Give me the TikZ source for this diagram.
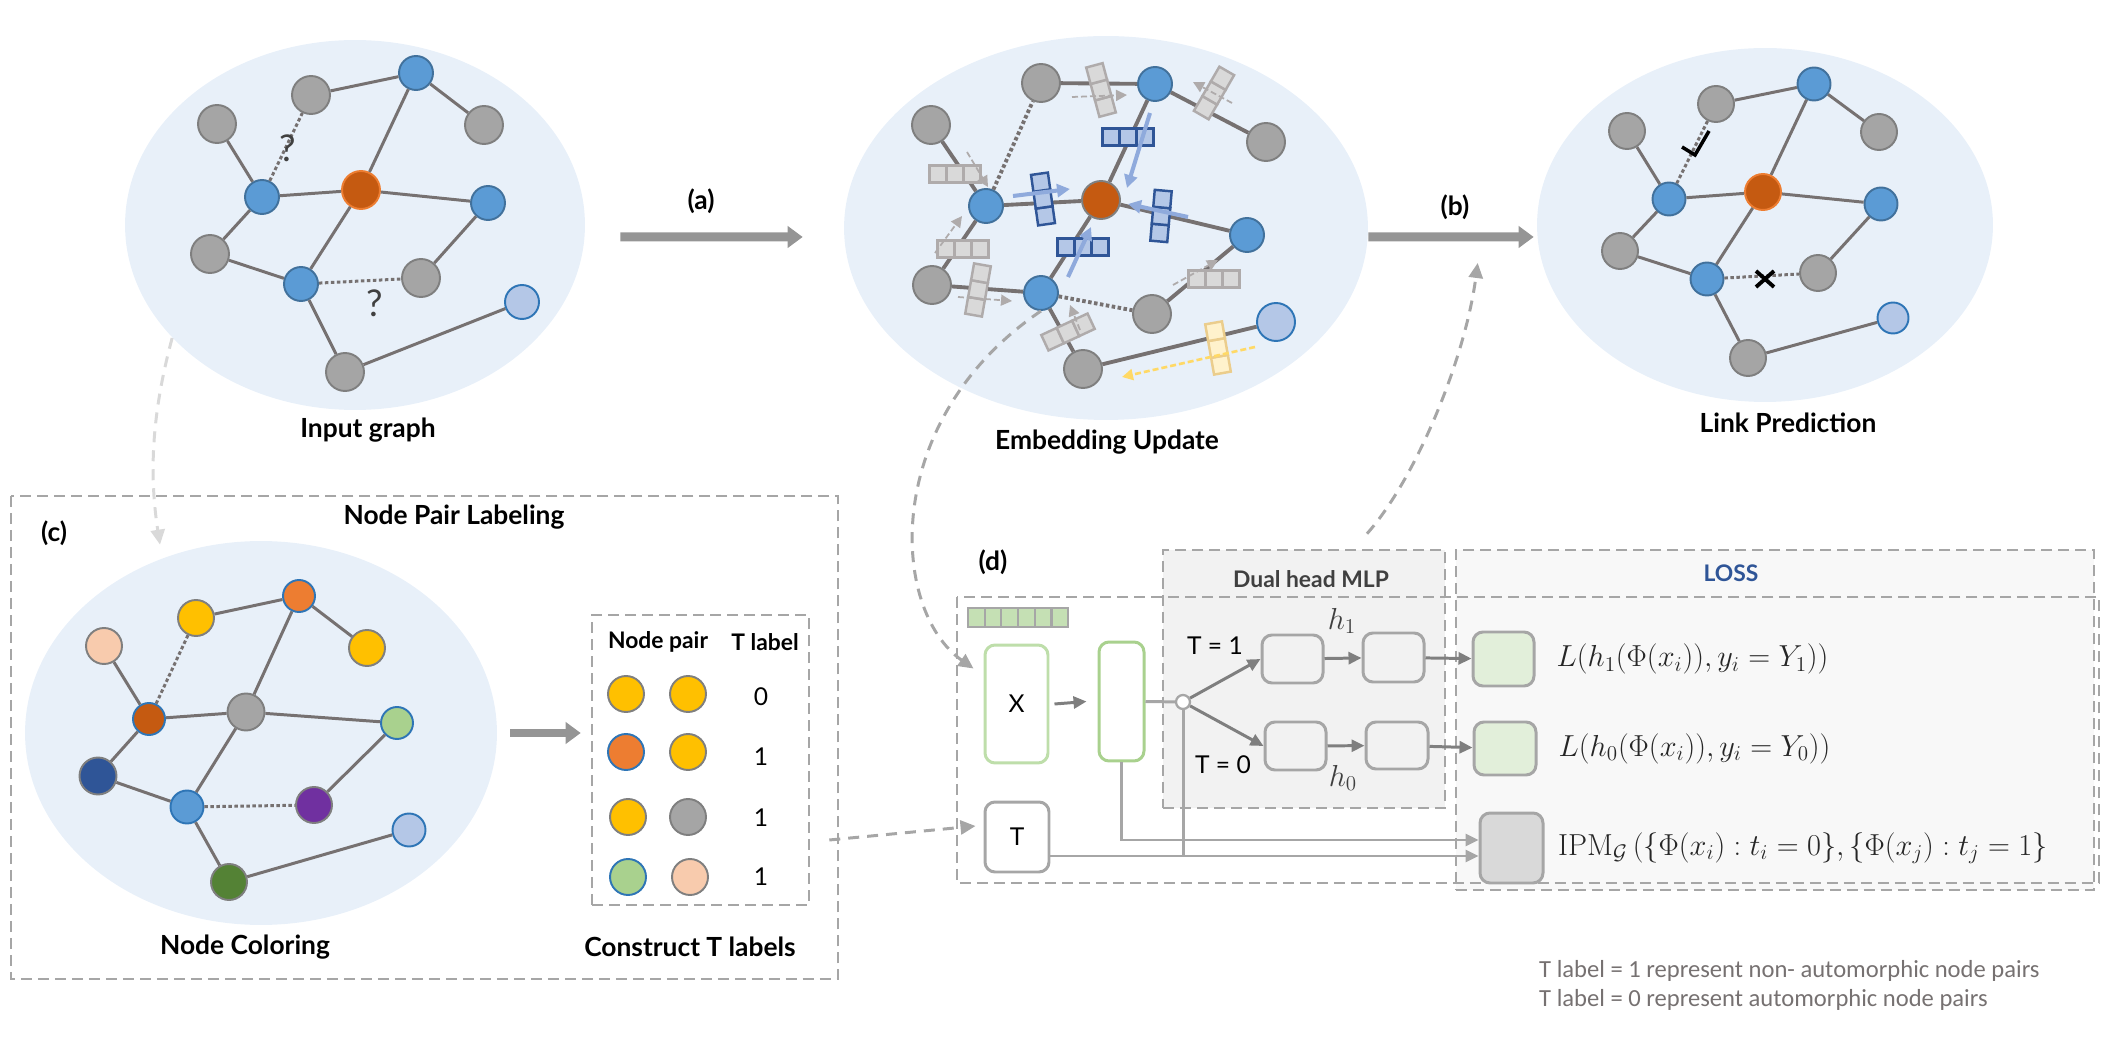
\documentclass[tikz,border=0pt]{standalone}
\usepackage[no-math]{fontspec}
\setmainfont{Lato}
\newfontfamily\notefont{Carlito}
\usepackage{amsmath}
\usetikzlibrary{arrows.meta, positioning, shapes.geometric}

\definecolor{ellfill}{RGB}{232,240,249}
\definecolor{edgegray}{RGB}{118,113,113}
\definecolor{nodegray}{RGB}{165,165,165}
\definecolor{nodegrayd}{RGB}{127,127,127}
\definecolor{nodeblue}{RGB}{91,155,213}
\definecolor{nodebluedk}{RGB}{65,113,156}
\definecolor{nodebrown}{RGB}{197,90,17}
\definecolor{nodeorange}{RGB}{237,125,49}
\definecolor{nodelight}{RGB}{180,199,231}
\definecolor{nodelightd}{RGB}{46,117,182}
\definecolor{nodeyellow}{RGB}{255,192,0}
\definecolor{nodepeach}{RGB}{248,203,173}
\definecolor{nodegreen}{RGB}{169,209,142}
\definecolor{nodenavy}{RGB}{47,85,151}
\definecolor{nodepurple}{RGB}{112,48,160}
\definecolor{nodedkgreen}{RGB}{84,130,53}
\definecolor{boxgray}{RGB}{166,166,166}
\definecolor{lightline}{RGB}{217,217,217}
\definecolor{vecgray}{RGB}{217,217,217}
\definecolor{vecgrayd}{RGB}{175,171,171}
\definecolor{vecblue}{RGB}{180,199,231}
\definecolor{vecblued}{RGB}{47,85,151}
\definecolor{vecyellow}{RGB}{255,242,204}
\definecolor{vecyellowd}{RGB}{235,205,140}
\definecolor{flowblue}{RGB}{143,170,220}
\definecolor{flowyellow}{RGB}{255,217,102}
\definecolor{mlpfill}{RGB}{242,242,242}
\definecolor{lossfill}{RGB}{248,248,248}
\definecolor{lossgreen}{RGB}{226,239,218}
\definecolor{ipmfill}{RGB}{217,217,217}
\definecolor{featgreen}{RGB}{197,224,180}
\definecolor{xgreen}{RGB}{190,222,170}
\definecolor{lossblue}{RGB}{47,85,151}
\definecolor{notegray}{RGB}{118,113,113}
\definecolor{arrowdk}{RGB}{127,127,127}
\definecolor{darktext}{RGB}{64,64,64}
\definecolor{formtext}{RGB}{38,38,38}

% three-cell embedding vector: position, angle, fill, border
\newcommand{\embvec}[4]{%
  \begin{scope}[shift={#1}, rotate=#2]
    \foreach \k in {0,1,2}
      \draw[fill=#3, draw=#4, line width=1.4pt] ({\k*17-25.5},-8.5) rectangle ++(17,17);
  \end{scope}}

\begin{document}
\begin{tikzpicture}[x=0.02cm, y=-0.02cm,
    every node/.style={font=\fontsize{15}{18}\selectfont\bfseries},
    gnode/.style={circle, draw=nodegrayd, fill=nodegray, line width=1.1pt,
                  minimum size=0.76cm, inner sep=0pt},
    bnode/.style={gnode, draw=nodebluedk, fill=nodeblue, minimum size=0.68cm},
    onode/.style={gnode, draw=nodeorange, fill=nodebrown},
    lnode/.style={gnode, draw=nodelightd, fill=nodelight, minimum size=0.68cm},
    gedge/.style={draw=edgegray, line width=1.7pt},
    qedge/.style={gedge, dash pattern=on 0.07cm off 0.05cm},
    panel/.style={ellipse, fill=ellfill, inner sep=0pt},
    bigarrow/.style={draw=boxgray!90!black, line width=0.18cm,
                     -{Triangle[length=0.3cm, width=0.42cm]}},
    dashbox/.style={draw=boxgray, line width=1.5pt, dash pattern=on 0.22cm off 0.12cm},
    flow/.style={draw=boxgray, line width=1.7pt, dash pattern=on 0.22cm off 0.16cm,
                 -{Triangle[length=0.3cm, width=0.28cm]}},
    blk/.style={draw=boxgray, rounded corners=0.2cm, line width=1.7pt, fill=white},
    arrow/.style={draw=arrowdk, line width=1.7pt, -{Triangle[length=0.26cm, width=0.24cm]}},
    feed/.style={draw=boxgray, line width=1.7pt},
    msgblue/.style={draw=flowblue, line width=2.3pt, -{Triangle[length=0.26cm, width=0.26cm]}},
    msggray/.style={draw=vecgrayd, line width=1pt, dash pattern=on 0.12cm off 0.06cm,
                    -{Triangle[length=0.22cm, width=0.22cm]}},
    small/.style={font=\fontsize{14}{16}\selectfont},
    smallb/.style={font=\fontsize{13}{15}\selectfont\bfseries},
    qmark/.style={font=\fontsize{21}{24}\selectfont, text=darktext},
  ]
  \useasboundingbox (0,0) rectangle (2103,1053);

  % Panels
  \node[panel, minimum width=9.2cm, minimum height=7.4cm]   (inpanel) at (355,225) {};
  \node[panel, minimum width=10.48cm, minimum height=7.68cm] (empanel) at (1106,228) {};
  \node[panel, minimum width=9.12cm, minimum height=7.08cm]  (lpanel)  at (1765,225) {};

  % Input graph
  \node[gnode] (ia) at (217,124) {};
  \node[gnode] (ib) at (311,95)  {};
  \node[bnode] (ic) at (416,73)  {};
  \node[gnode] (id) at (484,125) {};
  \node[bnode] (ie) at (262,197) {};
  \node[onode] (if) at (361,190) {};
  \node[bnode] (ig) at (488,203) {};
  \node[gnode] (ih) at (210,254) {};
  \node[bnode] (ii) at (301,284) {};
  \node[gnode] (ij) at (421,278) {};
  \node[lnode] (ik) at (522,302) {};
  \node[gnode] (il) at (345,372) {};
  \draw[gedge] (ia) -- (ie) (ib) -- (ic) (ic) -- (id) (ic) -- (if);
  \draw[gedge] (ie) -- (if) (if) -- (ig) (ie) -- (ih) (ih) -- (ii);
  \draw[gedge] (if) -- (ii) (ig) -- (ij) (ii) -- (il) (il) -- (ik);
  \draw[qedge] (ie) -- (ib) (ii) -- (ij);
  \node[qmark] at (288,148) {?};
  \node[qmark] at (375,303) {?};
  \node at (368,430) {Input graph};

  % Embedding update
  \node[gnode] (ea) at (1041,83)  {};
  \node[bnode] (eb) at (1155,84)  {};
  \node[gnode] (ec) at (1266,142) {};
  \node[gnode] (ed) at (931,125)  {};
  \node[bnode] (ee) at (986,206)  {};
  \node[onode, draw=nodegrayd] (ef) at (1101,200) {};
  \node[bnode] (eg) at (1247,235) {};
  \node[gnode] (eh) at (932,285)  {};
  \node[bnode] (ei) at (1041,293) {};
  \node[gnode] (ej) at (1152,314) {};
  \node[lnode, minimum size=0.76cm] (ek) at (1276,322) {};
  \node[gnode] (el) at (1083,369) {};
  \draw[gedge, line width=2.2pt] (ea) -- (eb) (eb) -- (ec) (ed) -- (ee) (ee) -- (ef);
  \draw[gedge, line width=2.2pt] (ee) -- (eh) (eh) -- (ei) (eb) -- (ef) (ef) -- (eg);
  \draw[gedge, line width=2.2pt] (ef) -- (ei) (eg) -- (ej) (ei) -- (el) (el) -- (ek);
  \draw[qedge, line width=2.2pt] (ee) -- (ea) (ei) -- (ej);

  % messages on the edges
  \embvec{(1101,90)}{105}{vecgray}{vecgrayd}
  \embvec{(1214,93)}{60}{vecgray}{vecgrayd}
  \embvec{(955,174)}{0}{vecgray}{vecgrayd}
  \embvec{(963,249)}{0}{vecgray}{vecgrayd}
  \embvec{(978,290)}{80}{vecgray}{vecgrayd}
  \embvec{(1214,279)}{0}{vecgray}{vecgrayd}
  \embvec{(1068,332)}{25}{vecgray}{vecgrayd}
  \embvec{(1218,348)}{100}{vecyellow}{vecyellowd}
  \embvec{(1128,137)}{0}{vecblue}{vecblued}
  \embvec{(1043,199)}{98}{vecblue}{vecblued}
  \embvec{(1161,216)}{85}{vecblue}{vecblued}
  \embvec{(1083,247)}{0}{vecblue}{vecblued}
  \draw[msgblue] (1013,196) -- (1070,189);
  \draw[msgblue] (1150,113) -- (1127,188);
  \draw[msgblue] (1188,217) -- (1128,204);
  \draw[msgblue] (1068,277) -- (1091,227);
  \draw[msggray] (1072,97) -- (1127,95);
  \draw[msggray] (1232,103) -- (1193,82);
  \draw[msggray] (967,152) -- (988,187);
  \draw[msggray] (935,253) -- (962,216);
  \draw[msggray] (958,297) -- (1012,301);
  \draw[msggray] (1173,285) -- (1218,260);
  \draw[msggray] (1080,330) -- (1070,305);
  \draw[msggray, draw=flowyellow, line width=1.5pt] (1255,347) -- (1122,377);
  \node at (1107,442) {Embedding Update};

  % Link prediction
  \node[gnode, minimum size=0.72cm] (la) at (1627,131) {};
  \node[gnode, minimum size=0.72cm] (lb) at (1716,104) {};
  \node[bnode, minimum size=0.66cm] (lc) at (1814,84)  {};
  \node[gnode, minimum size=0.72cm] (ld) at (1879,132) {};
  \node[bnode, minimum size=0.66cm] (le) at (1669,199) {};
  \node[onode, minimum size=0.72cm] (lf) at (1763,192) {};
  \node[bnode, minimum size=0.66cm] (lg) at (1881,204) {};
  \node[gnode, minimum size=0.72cm] (lh) at (1620,251) {};
  \node[bnode, minimum size=0.66cm] (li) at (1707,279) {};
  \node[gnode, minimum size=0.72cm] (lj) at (1818,273) {};
  \node[lnode, minimum size=0.62cm] (lk) at (1893,318) {};
  \node[gnode, minimum size=0.72cm] (ll) at (1748,358) {};
  \draw[gedge] (la) -- (le) (lb) -- (lc) (lc) -- (ld) (lc) -- (lf);
  \draw[gedge] (le) -- (lf) (lf) -- (lg) (le) -- (lh) (lh) -- (li);
  \draw[gedge] (lf) -- (li) (lg) -- (lj) (li) -- (ll) (ll) -- (lk);
  \draw[qedge] (le) -- (lb) (li) -- (lj);
  \draw[line width=2pt] (1682,147) -- (1695,155) -- (1709,131);
  \draw[line width=2.2pt] (1756,271) -- (1774,287) (1756,287) -- (1774,271);
  \node at (1788,423) {Link Prediction};

  % Steps (a) and (b)
  \draw[bigarrow] ([xshift=0.7cm, yshift=-0.24cm]inpanel.east)
    -- ([xshift=-0.82cm, yshift=-0.18cm]empanel.west);
  \node at (701,201) {(a)};
  \draw[bigarrow] ([yshift=-0.18cm]empanel.east) -- ([xshift=-0.06cm, yshift=-0.24cm]lpanel.west);
  \node at (1455,207) {(b)};

  % (c) Node pair labeling
  \draw[dashbox] (11,496) rectangle (838,979);
  \node at (54,533) {(c)};
  \node at (454,517) {Node Pair Labeling};
  \node[panel, minimum width=9.44cm, minimum height=7.68cm] (cpanel) at (261,733) {};
  \node[gnode, fill=nodepeach, minimum size=0.72cm] (ca) at (104,646) {};
  \node[gnode, fill=nodeyellow, minimum size=0.72cm] (cb) at (196,618) {};
  \node[gnode, draw=nodelightd, fill=nodeorange, minimum size=0.64cm] (cc) at (299,596) {};
  \node[gnode, fill=nodeyellow, minimum size=0.72cm] (cd) at (367,648) {};
  \node[gnode, draw=nodelightd, fill=nodebrown, minimum size=0.64cm] (ce) at (149,719) {};
  \node[gnode, minimum size=0.74cm] (cf) at (246,712) {};
  \node[gnode, draw=nodelightd, fill=nodegreen, minimum size=0.64cm] (cg) at (397,723) {};
  \node[gnode, fill=nodenavy, minimum size=0.74cm] (ch) at (98,776) {};
  \node[gnode, draw=nodelightd, fill=nodeblue, minimum size=0.66cm] (ci) at (187,807) {};
  \node[gnode, fill=nodepurple, minimum size=0.72cm] (cj) at (314,805) {};
  \node[lnode, minimum size=0.66cm] (ck) at (409,830) {};
  \node[gnode, fill=nodedkgreen, minimum size=0.72cm] (cl) at (229,882) {};
  \draw[gedge] (ca) -- (ce) (cb) -- (cc) (cc) -- (cd) (cc) -- (cf);
  \draw[gedge] (ce) -- (cf) (cf) -- (cg) (ce) -- (ch) (ch) -- (ci);
  \draw[gedge] (cf) -- (ci) (cg) -- (cj) (ci) -- (cl) (cl) -- (ck);
  \draw[qedge] (ce) -- (cb) (ci) -- (cj);
  \node at (245,947) {Node Coloring};

  % T label table
  \node[dashbox, minimum width=4.34cm, minimum height=5.8cm] (tbl) at (700.5,760) {};
  \node[smallb] at (658,642) {Node pair};
  \node[smallb] at (765,642) {T label};
  \node[gnode, fill=nodeyellow, minimum size=0.72cm] (p1a) at (626,694) {};
  \node[gnode, fill=nodeyellow, minimum size=0.72cm] (p1b) at (688,694) {};
  \node[gnode, draw=nodelightd, fill=nodeorange, minimum size=0.72cm] (p2a) at (626,752) {};
  \node[gnode, fill=nodeyellow, minimum size=0.72cm] (p2b) at (688,752) {};
  \node[gnode, fill=nodeyellow, minimum size=0.72cm] (p3a) at (628,817) {};
  \node[gnode, minimum size=0.72cm] (p3b) at (688,817) {};
  \node[gnode, draw=nodelightd, fill=nodegreen, minimum size=0.72cm] (p4a) at (628,877) {};
  \node[gnode, fill=nodepeach, minimum size=0.72cm] (p4b) at (690,877) {};
  \node[small] at (761,697) {0};
  \node[small] at (761,757) {1};
  \node[small] at (761,818) {1};
  \node[small] at (761,877) {1};
  \node at (690,947) {Construct T labels};
  \draw[bigarrow, line width=0.16cm] ([xshift=0.26cm]cpanel.east) -- ([xshift=-0.2cm]tbl.west |- cpanel.east);

  % (d) model
  \node[dashbox, fill=mlpfill, minimum width=5.64cm, minimum height=5.16cm] (mlp) at (1304,679) {};
  \node[dashbox, fill=lossfill, minimum width=12.76cm, minimum height=6.8cm] (loss) at (1775,720) {};
  \draw[dashbox] (957,597) rectangle (2099,883);
  \node at (993,562) {(d)};
  \node[smallb, text=darktext] at (1311,579) {Dual head MLP};
  \node[smallb, text=lossblue] at (1731,573) {LOSS};

  \foreach \k in {0,...,5}
    \draw[draw=boxgray, fill=featgreen, line width=1.2pt] ({968+\k*16.7},608) rectangle ++(16.7,19);

  \node[blk, draw=xgreen, minimum width=1.26cm, minimum height=2.36cm, small] (xbox) at (1016.5,704) {X};
  \node[blk, draw=nodegreen, minimum width=0.9cm, minimum height=2.38cm] (hbox) at (1121.5,701.5) {};
  \node[blk, minimum width=1.28cm, minimum height=1.4cm, small] (tbox) at (1017,837) {T};
  \node[circle, draw=boxgray, fill=white, line width=1.3pt, minimum size=0.28cm, inner sep=0pt] (sw) at (1183,702) {};
  \node[blk, fill=mlpfill, minimum width=1.22cm, minimum height=0.96cm] (m1a) at (1292.5,659) {};
  \node[blk, fill=mlpfill, minimum width=1.22cm, minimum height=0.98cm] (m1b) at (1393.5,657.5) {};
  \node[blk, fill=mlpfill, minimum width=1.22cm, minimum height=0.96cm] (m0a) at (1295.5,746) {};
  \node[blk, fill=mlpfill, minimum width=1.24cm, minimum height=0.94cm] (m0b) at (1397,745.5) {};
  \node[blk, fill=lossgreen, minimum width=1.22cm, minimum height=1.08cm] (l1) at (1503.5,659) {};
  \node[blk, fill=lossgreen, minimum width=1.24cm, minimum height=1.06cm] (l0) at (1505,748.5) {};
  \node[blk, fill=ipmfill, minimum width=1.26cm, minimum height=1.4cm] (ipm) at (1511.5,848) {};

  \node[small] at (1215,646) {T = 1};
  \node[small] at (1223,765) {T = 0};
  \node[font=\LARGE, text=darktext] at (1342,621) {$h_1$};
  \node[font=\LARGE, text=darktext] at (1343,778) {$h_0$};

  \draw[arrow] ([xshift=0.1cm]xbox.east) -- ([xshift=-0.22cm]hbox.west);
  \draw[feed] (hbox.east) -- (sw);
  \draw[arrow] (sw) -- (m1a.west);
  \draw[arrow] (sw) -- (m0a.west);
  \draw[arrow] (m1a) -- (m1b);
  \draw[arrow] (m0a) -- (m0b);
  \draw[arrow] (m1b) -- (l1);
  \draw[arrow] (m0b) -- (l0);
  \draw[feed, -{Triangle[length=0.26cm, width=0.24cm]}] (hbox.south) |- (ipm.west |- 0,840);
  \draw[feed, -{Triangle[length=0.26cm, width=0.24cm]}] (tbox.east |- 0,856) -- (ipm.west |- 0,856);
  \draw[feed] (sw.south) -- (sw |- 0,856);

  % Loss terms
  \node[font=\LARGE, text=formtext, right=0.3cm of l1] {$L(h_1(\Phi(x_i)),y_i=Y_1))$};
  \node[font=\LARGE, text=formtext, right=0.3cm of l0] {$L(h_0(\Phi(x_i)),y_i=Y_0))$};
  \node[font=\LARGE, text=formtext, right=0.15cm of ipm]
    {$\mathrm{IPM}_{\mathcal{G}}\,(\{\Phi(x_i):t_i=0\},\{\Phi(x_j):t_j=1\}$};

  % Dashed links between the parts
  \draw[flow, draw=lightline] ([xshift=-0.4cm, yshift=0.36cm]inpanel.south west)
    .. controls (150,420) and (150,480) .. ([xshift=-2.02cm, yshift=-0.08cm]cpanel.north);
  \draw[flow] (ei.south) .. controls (880,420) and (890,610) .. ([xshift=-0.2cm, yshift=-0.5cm]xbox.north west);
  \draw[flow] ([xshift=0.38cm]tbl.east |- 0,840) -- ([xshift=-0.16cm]tbox.west |- 0,826);
  \draw[flow] ([xshift=1.26cm, yshift=0.3cm]mlp.north)
    .. controls (1415,480) and (1465,360) .. ([xshift=-1.18cm, yshift=-0.76cm]lpanel.west);

  % Note
  \node[font=\notefont\fontsize{14}{16.5}\selectfont, text=notegray, align=left, anchor=west]
    at (1533,985) {T label = 1 represent non- automorphic node pairs\\
                   T label = 0 represent automorphic node pairs};
\end{tikzpicture}
\end{document}
